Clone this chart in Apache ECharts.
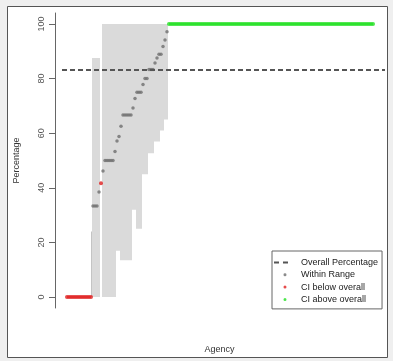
<!DOCTYPE html>
<html>
<head>
<meta charset="utf-8">
<script src="https://cdn.jsdelivr.net/npm/echarts@6/dist/echarts.min.js"></script>
<style>
  html, body { margin: 0; padding: 0; background: #efefef; }
  #chart { width: 393px; height: 361px; }
</style>
</head>
<body>
<div id="chart"></div>
<script>
// percentage per agency, sorted ascending (rank = array position)
const pct = [
  0, 0, 0, 0, 0, 0, 0, 0, 0, 0, 0, 0, 0,
  33.3, 33.3, 33.3, 38.5, 41.7, 46.2, 50, 50, 50, 50, 50,
  53.3, 57.1, 58.8, 62.5, 66.7, 66.7, 66.7, 66.7, 66.7,
  69.2, 72.7, 75, 75, 75, 77.8, 80, 80, 83.3, 83.3, 83.3,
  85.7, 87.5, 88.9, 88.9, 91.7, 94.1, 97.1,
  100, 100, 100, 100, 100, 100, 100, 100, 100, 100, 100, 100, 100, 100, 100, 100, 100, 100, 100, 100,
  100, 100, 100, 100, 100, 100, 100, 100, 100, 100, 100, 100, 100, 100, 100, 100, 100, 100, 100, 100,
  100, 100, 100, 100, 100, 100, 100, 100, 100, 100, 100, 100, 100, 100, 100, 100, 100, 100, 100, 100,
  100, 100, 100, 100, 100, 100, 100, 100, 100, 100, 100, 100, 100, 100, 100, 100, 100, 100, 100, 100,
  100, 100, 100, 100, 100, 100, 100, 100, 100, 100, 100, 100, 100, 100, 100, 100, 100, 100, 100, 100,
  100, 100, 100
]
// b = CI below overall, w = within range, a = CI above overall
const status =
  'bbbbbbbbbbbbb' +
  'wwww' + 'b' + 'wwwwwwwwwwwwwwwwwwwwwwwwwwwwwwwww' +
  'aaaaaaaaaaaaaaaaaaaaaaaaaaaaaaaaaaaaaaaaaaaaaaaaaaaaaaaaaaaaaaaaaaaaaaaaaaaaaaaaaaaaaaaaaaaaaaaaaaaaaaa'
// confidence interval for the first ranks (null = not drawn)
const ciLow = [
  null, null, null, null, null, null, null, null, null, null, null, null,
  0, 0, 0, 0, 0, null, 0, 0, 0, 0, 0, 0, 0,
  17, 17, 13.5, 13.5, 13.5, 13.5, 13.5, 13.5,
  32, 32, 25, 25, 25, 45, 45, 45, 52.7, 52.7, 52.7,
  57, 57, 57, 61, 61, 65, 65
]
const ciHigh = [
  null, null, null, null, null, null, null, null, null, null, null, null,
  24, 87.5, 87.5, 87.5, 87.5, null, 100, 100, 100, 100, 100, 100, 100,
  100, 100, 100, 100, 100, 100, 100, 100,
  100, 100, 100, 100, 100, 100, 100, 100, 100, 100, 100,
  100, 100, 100, 100, 100, 100, 100
]
const overall = 83.2
const yTicks = [0, 20, 40, 60, 80, 100]

const pts = { b: [], w: [], a: [] }
pct.forEach(function (v, i) { pts[status[i]].push([i, v]) })
const ci = []
ciLow.forEach(function (lo, i) {
  if (lo !== null) ci.push([i, lo, ciHigh[i], status[i] === 'b' ? 1 : 0])
})

const font = 'Liberation Sans, Arial, sans-serif'
const dot = 'path://M0,0L0.01,0M14,8L14.01,8M9.5,4a1.5,1.5 0 1,0 3,0a1.5,1.5 0 1,0 -3,0z'
const chart = echarts.init(document.getElementById('chart'))
chart.setOption({
  backgroundColor: '#efefef',
  animation: false,
  textStyle: { fontFamily: font },
  graphic: [{
    type: 'rect',
    z: -10,
    silent: true,
    shape: { x: 7.5, y: 6.5, width: 380, height: 351 },
    style: { fill: '#fff', stroke: '#555', lineWidth: 1 }
  }],
  grid: { left: 62, right: 8, top: 13, bottom: 53 },
  legend: {
    orient: 'vertical',
    left: 272,
    top: 251,
    padding: [7, 4, 5, 2],
    itemWidth: 14,
    itemHeight: 8,
    itemGap: 3.3,
    borderColor: '#666',
    borderWidth: 1,
    backgroundColor: '#fff',
    itemStyle: { borderWidth: 0 },
    textStyle: { fontSize: 9, color: '#222', fontFamily: font, padding: [0, 0, 0, 8] },
    data: [
      { name: 'Overall Percentage', icon: 'path://M0,0L0.01,0M14,8L14.01,8M0,3h5v2h-5zM9,3h5v2h-5z' },
      { name: 'Within Range', icon: dot },
      { name: 'CI below overall', icon: dot },
      { name: 'CI above overall', icon: dot }
    ]
  },
  xAxis: {
    type: 'value',
    min: -2.5,
    max: 159,
    axisLine: { show: false },
    axisTick: { show: false },
    axisLabel: { show: false },
    splitLine: { show: false },
    name: 'Agency',
    nameLocation: 'middle',
    nameGap: 37,
    nameTextStyle: { fontSize: 9, color: '#333', padding: [0, 8, 0, 0] }
  },
  yAxis: {
    type: 'value',
    min: -4,
    max: 104,
    offset: 7,
    axisLine: { show: true, onZero: false, lineStyle: { color: '#666' } },
    axisTick: { show: true, length: 6, customValues: yTicks, lineStyle: { color: '#666' } },
    axisLabel: { customValues: yTicks, rotate: 90, margin: 9, fontSize: 9, color: '#555' },
    splitLine: { show: false },
    name: 'Percentage',
    nameLocation: 'middle',
    nameRotate: 90,
    nameGap: 34,
    nameTextStyle: { fontSize: 9, color: '#333' }
  },
  series: [
    {
      name: 'CI',
      type: 'custom',
      z: 1,
      encode: { x: 0, y: [1, 2] },
      data: ci,
      renderItem: function (params, api) {
        const top = api.coord([api.value(0), api.value(2)])
        const bot = api.coord([api.value(0), api.value(1)])
        const dark = api.value(3) === 1
        const w = dark ? 1 : api.size([1, 0])[0]
        return {
          type: 'rect',
          shape: { x: top[0] - w / 2 + (dark ? 1 : 0), y: top[1], width: w, height: bot[1] - top[1] },
          style: { fill: dark ? '#8a8a8a' : '#dadada' }
        }
      }
    },
    {
      name: 'Within Range',
      type: 'scatter',
      z: 2,
      color: '#6e6e6e',
      symbolSize: 3.5,
      data: pts.w
    },
    {
      name: 'CI below overall',
      type: 'scatter',
      z: 2,
      color: '#e01e1e',
      symbolSize: 4,
      data: pts.b
    },
    {
      name: 'CI above overall',
      type: 'scatter',
      z: 2,
      color: '#1fe01f',
      symbolSize: 4,
      data: pts.a
    },
    {
      name: 'Overall Percentage',
      type: 'line',
      z: 3,
      color: '#555',
      data: [],
      markLine: {
        silent: true,
        symbol: 'none',
        label: { show: false },
        lineStyle: { type: [5, 3], color: '#555', width: 2 },
        data: [{ yAxis: overall }]
      }
    }
  ]
})
</script>
</body>
</html>
